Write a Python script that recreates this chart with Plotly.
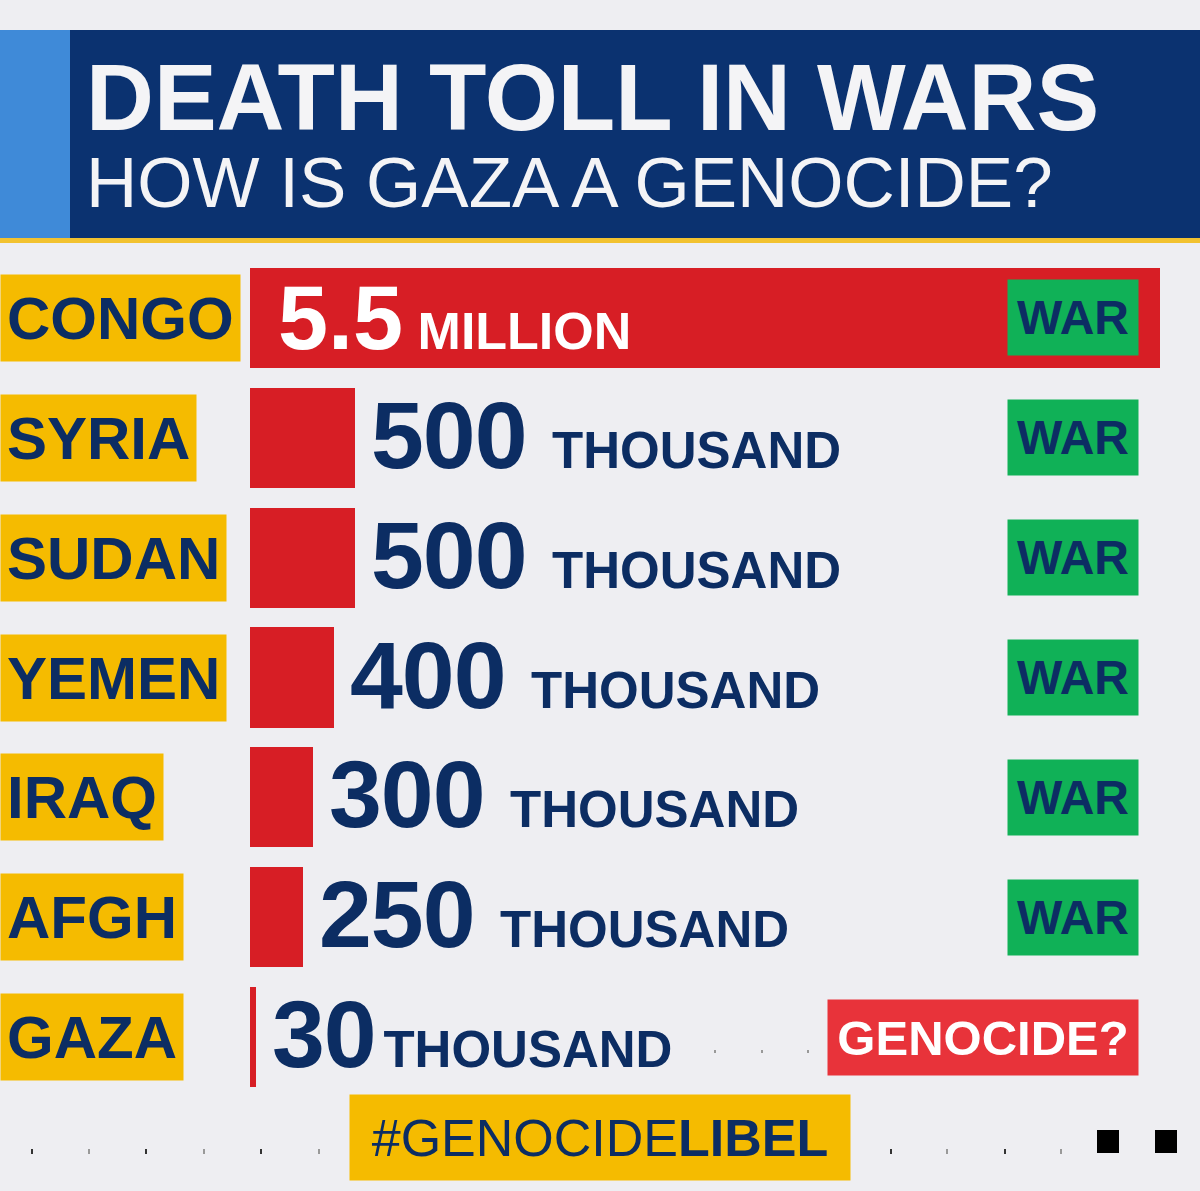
import plotly.graph_objects as go

# data
countries = ["CONGO", "SYRIA", "SUDAN", "YEMEN", "IRAQ", "AFGH", "GAZA"]
deaths = [5500000, 500000, 500000, 400000, 300000, 250000, 30000]
amount = ["5.5", "500", "500", "400", "300", "250", "30"]
unit = ["MILLION", "THOUSAND", "THOUSAND", "THOUSAND", "THOUSAND", "THOUSAND", "THOUSAND"]
status = ["WAR", "WAR", "WAR", "WAR", "WAR", "WAR", "GENOCIDE?"]

title = "DEATH TOLL IN WARS"
subtitle = "HOW IS GAZA A GENOCIDE?"
hashtag = "#GENOCIDE<b>LIBEL</b>"

W, H = 1200, 1191
L, R, T, B = 250, 40, 258, 94
PW, PH = W - L - R, H - T - B

BG = "#eeeef2"
NAVY = "#0b3270"
TXT = "#0c2d63"
BLUE = "#3f8ad8"
YELLOW = "#f5bb00"
RED = "#d71e25"
GREEN = "#10b157"
GRED = "#e8333a"
FONT = "Liberation Sans, Arial, sans-serif"


def px(x):
    return (x - L) / PW


def py(y):
    return (H - B - y) / PH


fig = go.Figure()
fig.add_trace(go.Bar(
    x=deaths, y=countries, orientation="h", width=0.835,
    marker=dict(color=RED, line=dict(width=0)), hoverinfo="skip",
))

shapes = [
    dict(type="rect", xref="paper", yref="paper", x0=px(0), x1=px(70), y0=py(238), y1=py(30),
         fillcolor=BLUE, line_width=0, layer="below"),
    dict(type="rect", xref="paper", yref="paper", x0=px(70), x1=px(1200), y0=py(238), y1=py(30),
         fillcolor=NAVY, line_width=0, layer="below"),
    dict(type="rect", xref="paper", yref="paper", x0=px(0), x1=px(1200), y0=py(243), y1=py(238),
         fillcolor="#f2c230", line_width=0, layer="below"),
]
# footer squares and tick marks
for x0 in (1097, 1155):
    shapes.append(dict(type="rect", xref="paper", yref="paper", x0=px(x0), x1=px(x0 + 22),
                       y0=py(1153), y1=py(1130), fillcolor="black", line_width=0))
for i, x0 in enumerate((31, 88, 145, 203, 260, 318, 890, 946, 1004, 1060)):
    shapes.append(dict(type="rect", xref="paper", yref="paper", x0=px(x0), x1=px(x0 + 2),
                       y0=py(1154), y1=py(1149),
                       fillcolor="#333" if i % 2 == 0 else "#999", line_width=0))
for x0 in (714, 761, 807):
    shapes.append(dict(type="rect", xref="paper", yref="paper", x0=px(x0), x1=px(x0 + 2),
                       y0=py(1053), y1=py(1050), fillcolor="#999", line_width=0))

# title + subtitle in one text block (line step = 1.3 * base size)
head = ("<b><span style='font-size:94px'>%s</span></b><br>"
        "<span style='font-size:71px'>%s</span>" % (title, subtitle))
ann = [
    dict(text=head, xref="paper", yref="paper", x=px(84), y=py(134),
         xanchor="left", yanchor="middle", align="left", showarrow=False,
         font=dict(family=FONT, size=59, color="#f4f4f6")),
    dict(text=hashtag, xref="paper", yref="paper", x=px(600), y=py(1137),
         xanchor="center", yanchor="middle", showarrow=False, width=488, height=73,
         bgcolor=YELLOW, borderpad=6, font=dict(family=FONT, size=52, color=TXT)),
]

for i, c in enumerate(countries):
    # country label box
    ann.append(dict(text="<b>" + c + "</b>", xref="paper", yref="y", x=px(0), y=c,
                    xanchor="left", yanchor="middle", showarrow=False, align="left",
                    height=74, bgcolor=YELLOW, borderpad=6,
                    font=dict(family=FONT, size=60, color=TXT)))
    # value text
    if i == 0:
        txt = "<b><span style='font-size:90px'>%s</span> %s</b>" % (amount[i], unit[i])
        ann.append(dict(text=txt, xref="paper", yref="y", x=px(276), y=c,
                        xanchor="left", yanchor="middle", showarrow=False,
                        font=dict(family=FONT, size=52, color="white")))
    else:
        gap = "<span style='font-size:28px'> </span>" if c == "GAZA" else "<span style='font-size:92px'> </span>"
        txt = "<b><span style='font-size:95px;letter-spacing:-1px'>%s</span>%s%s</b>" % (amount[i], gap, unit[i])
        ann.append(dict(text=txt, xref="x", yref="y", x=deaths[i], y=c, xshift=14, yshift=3,
                        xanchor="left", yanchor="middle", showarrow=False,
                        font=dict(family=FONT, size=51, color=TXT)))
    # status box
    if status[i] == "WAR":
        ann.append(dict(text="<b>" + status[i] + "</b>", xref="paper", yref="y", x=px(1073), y=c,
                        xanchor="center", yanchor="middle", showarrow=False,
                        width=120, height=65, bgcolor=GREEN, borderpad=5,
                        font=dict(family=FONT, size=48, color=TXT)))
    else:
        ann.append(dict(text="<b>" + status[i] + "</b>", xref="paper", yref="y", x=px(983), y=c,
                        xanchor="center", yanchor="middle", showarrow=False,
                        width=300, height=65, bgcolor=GRED, borderpad=5,
                        font=dict(family=FONT, size=49, color="white")))

fig.update_layout(
    width=W, height=H, margin=dict(l=L, r=R, t=T, b=B),
    paper_bgcolor=BG, plot_bgcolor=BG, showlegend=False,
    shapes=shapes, annotations=ann,
    xaxis=dict(range=[0, 4330000], visible=False, fixedrange=True),
    yaxis=dict(autorange="reversed", visible=False, fixedrange=True),
    bargap=0,
)

fig.write_html("out.html", config={"displayModeBar": False},
               post_script="document.body.style.margin = '0';")
